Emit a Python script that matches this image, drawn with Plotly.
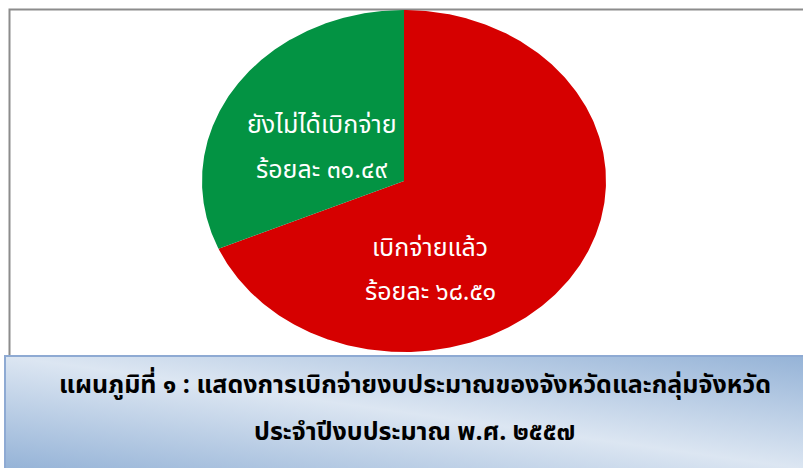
import base64
import numpy as np
import plotly.graph_objects as go

# ---- data ----
categories = ["เบิกจ่ายแล้ว", "ยังไม่ได้เบิกจ่าย"]
values = [68.51, 31.49]
colors = ["#D60000", "#039343"]
title_lines = [
    "แผนภูมิที่ ๑ : แสดงการเบิกจ่ายงบประมาณของจังหวัดและกลุ่มจังหวัด",
    "ประจำปีงบประมาณ พ.ศ. ๒๕๕๗",
]

W, H = 803, 468
THAI_DIGITS = str.maketrans("0123456789", "๐๑๒๓๔๕๖๗๘๙")
FONT = "Noto Sans Thai, Tahoma, Noto Sans, sans-serif"


def thai_num(v):
    return f"{v:.2f}".translate(THAI_DIGITS)


fig = go.Figure()

# elliptical pie: red clockwise from 12 o'clock, green counter-clockwise from 12
total = sum(values)
start = 90.0
ends = [start - values[0] / total * 360.0, start + values[1] / total * 360.0]
for i, (cat, val) in enumerate(zip(categories, values)):
    th = np.radians(np.linspace(start, ends[i], 400))
    xs = np.concatenate([[0], np.cos(th), [0]])
    ys = np.concatenate([[0], np.sin(th), [0]])
    fig.add_trace(go.Scatter(
        x=xs, y=ys, mode="lines", fill="toself",
        fillcolor=colors[i], line=dict(width=0, color=colors[i]),
        name=cat, hoverinfo="name", showlegend=False,
    ))

# slice labels (label position in axis units: x, [line1 y, line2 y])
label_pos = [(0.13, [-0.39, -0.65]), (-0.41, [0.33, 0.065])]
for i, cat in enumerate(categories):
    lx, lys = label_pos[i]
    for txt, ly in zip([cat, "ร้อยละ " + thai_num(values[i])], lys):
        fig.add_annotation(
            x=lx, y=ly, xref="x", yref="y",
            xanchor="center", yanchor="middle",
            text=txt, showarrow=False,
            font=dict(family=FONT, size=25, color="white"),
        )

# gradient box for caption (SVG background)
svg = """<svg xmlns='http://www.w3.org/2000/svg' width='802' height='115' viewBox='0 0 802 115' preserveAspectRatio='none'>
<defs><linearGradient id='g' x1='1' y1='0' x2='0' y2='1'>
<stop offset='0' stop-color='#95B3D7'/><stop offset='0.5' stop-color='#DCE6F2'/><stop offset='1' stop-color='#95B3D7'/>
</linearGradient></defs>
<rect x='1' y='1' width='800' height='113' fill='url(#g)' stroke='#8EAAD3' stroke-width='2'/>
</svg>"""
src = "data:image/svg+xml;base64," + base64.b64encode(svg.encode()).decode()

fig.add_layout_image(
    source=src, xref="paper", yref="paper",
    x=4 / W, y=1 - 355 / H, sizex=802 / W, sizey=115 / H,
    xanchor="left", yanchor="top", sizing="stretch", layer="above",
)

# outer gray frame of chart area
fig.add_shape(type="rect", xref="paper", yref="paper",
              x0=9.5 / W, x1=1.02, y0=1 - 9.5 / H, y1=1 - 365 / H,
              line=dict(color="#8C8C8C", width=2), layer="below")

for txt, py in zip(title_lines, [385, 432]):
    fig.add_annotation(
        x=415 / W, y=1 - py / H, xref="paper", yref="paper",
        xanchor="center", yanchor="middle",
        text=f"<b>{txt}</b>", showarrow=False,
        font=dict(family=FONT, size=25, color="black"),
    )

fig.update_layout(
    width=W, height=H,
    margin=dict(l=0, r=0, t=0, b=0),
    paper_bgcolor="white", plot_bgcolor="rgba(0,0,0,0)",
    xaxis=dict(domain=[202 / W, 606 / W], range=[-1, 1], visible=False, fixedrange=True),
    yaxis=dict(domain=[1 - 352 / H, 1 - 10 / H], range=[-1, 1], visible=False, fixedrange=True),
    showlegend=False,
)

fig.write_html("out.html", config={"displayModeBar": False},
               post_script="document.body.style.margin='0';document.body.style.overflow='hidden';")
